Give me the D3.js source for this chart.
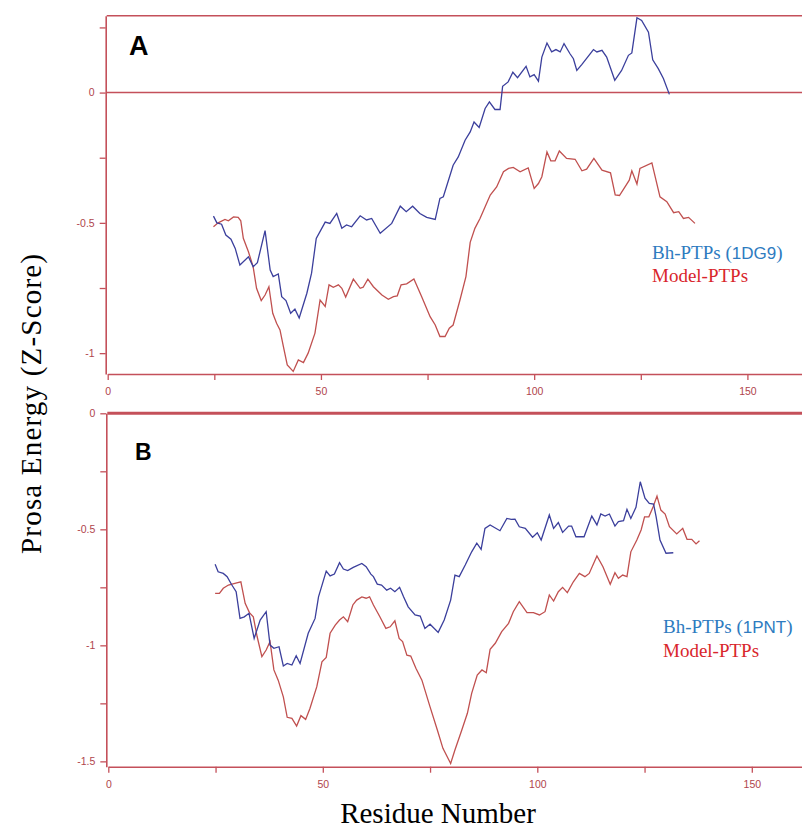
<!DOCTYPE html>
<html>
<head>
<meta charset="utf-8">
<script src="https://cdn.jsdelivr.net/npm/d3@7/dist/d3.min.js"></script>
<style>
  html, body { margin: 0; padding: 0; background: #fff; }
  svg { display: block; }
</style>
</head>
<body>
<svg id="chart" width="802" height="828"></svg>
<script>
// ---------------- DATA ----------------
// Panel A : [residue, z-score]
const blueA = [[24.8,-0.474],[25.6,-0.50],[26.7,-0.505],[27.7,-0.547],[28.9,-0.563],[29.9,-0.598],[31.0,-0.662],[33.0,-0.63],[34.1,-0.668],[35.1,-0.653],[36.9,-0.53],[38.1,-0.681],[38.8,-0.706],[40.0,-0.696],[40.8,-0.783],[41.8,-0.798],[42.9,-0.847],[43.9,-0.831],[44.9,-0.865],[46.7,-0.77],[47.8,-0.693],[48.9,-0.56],[51.0,-0.497],[52.1,-0.502],[53.7,-0.464],[54.9,-0.521],[56.0,-0.508],[57.2,-0.515],[59.2,-0.473],[60.7,-0.489],[61.9,-0.483],[63.9,-0.54],[66.6,-0.502],[68.6,-0.436],[70.0,-0.457],[71.5,-0.436],[73.2,-0.464],[74.8,-0.479],[76.8,-0.487],[77.9,-0.406],[78.7,-0.40],[81.0,-0.279],[82.2,-0.247],[83.8,-0.183],[85.0,-0.151],[85.9,-0.113],[87.1,-0.134],[88.5,-0.061],[89.5,-0.036],[90.8,-0.065],[92.0,-0.065],[92.6,0.024],[93.9,0.041],[95.0,0.078],[96.1,0.057],[98.1,0.101],[99.0,0.06],[100.0,0.069],[101.0,0.044],[101.8,0.136],[103.0,0.19],[104.1,0.156],[105.1,0.165],[106.1,0.156],[107.0,0.188],[108.4,0.149],[109.2,0.13],[110.0,0.085],[111.2,0.108],[113.9,0.165],[114.7,0.156],[115.9,0.162],[117.0,0.136],[118.9,0.047],[120.5,0.085],[122.1,0.143],[122.9,0.152],[124.1,0.287],[125.2,0.277],[126.8,0.232],[127.8,0.126],[129.1,0.092],[130.3,0.054],[131.7,-0.007]];
const redA = [[24.8,-0.515],[25.9,-0.50],[27.5,-0.487],[28.3,-0.492],[29.5,-0.477],[30.6,-0.479],[31.2,-0.492],[31.8,-0.559],[33.0,-0.611],[34.1,-0.668],[34.9,-0.751],[36.0,-0.798],[36.9,-0.777],[37.8,-0.745],[38.7,-0.847],[39.6,-0.885],[40.4,-0.911],[41.2,-0.975],[42.1,-1.045],[43.5,-1.07],[44.7,-1.026],[45.9,-1.036],[47.0,-1.0],[48.6,-0.923],[49.8,-0.796],[51.0,-0.821],[51.9,-0.738],[52.9,-0.747],[54.1,-0.738],[54.9,-0.751],[55.8,-0.785],[57.6,-0.716],[59.2,-0.751],[59.9,-0.747],[61.0,-0.716],[62.3,-0.745],[64.3,-0.777],[65.8,-0.793],[67.0,-0.783],[67.9,-0.78],[68.8,-0.738],[70.1,-0.734],[71.8,-0.715],[73.6,-0.783],[75.6,-0.86],[76.8,-0.892],[77.9,-0.936],[79.1,-0.936],[80.1,-0.904],[81.0,-0.892],[82.6,-0.796],[84.0,-0.706],[85.0,-0.575],[86.1,-0.521],[87.3,-0.483],[88.5,-0.438],[89.7,-0.393],[91.2,-0.362],[92.8,-0.304],[94.0,-0.291],[95.1,-0.287],[96.7,-0.304],[98.6,-0.289],[100.0,-0.368],[101.0,-0.349],[101.8,-0.323],[103.0,-0.228],[103.9,-0.262],[104.9,-0.262],[105.9,-0.224],[107.6,-0.253],[109.6,-0.256],[111.2,-0.30],[112.3,-0.294],[114.0,-0.253],[115.9,-0.298],[117.9,-0.308],[119.0,-0.393],[120.0,-0.395],[121.3,-0.362],[122.3,-0.336],[122.9,-0.30],[124.1,-0.351],[124.8,-0.291],[127.6,-0.27],[129.5,-0.40],[131.1,-0.419],[132.7,-0.461],[133.9,-0.457],[135.0,-0.483],[136.2,-0.479],[137.7,-0.502]];

// Panel B : [residue, z-score]
const blueB = [[24.9,-0.651],[25.6,-0.683],[26.8,-0.69],[27.7,-0.704],[28.8,-0.74],[29.8,-0.769],[30.7,-0.884],[31.7,-0.877],[32.8,-0.862],[34.0,-0.97],[35.4,-0.891],[36.8,-0.855],[37.7,-0.999],[38.6,-1.013],[39.8,-1.006],[40.8,-1.089],[41.7,-1.078],[42.8,-1.085],[43.8,-1.045],[44.7,-1.078],[46.6,-0.948],[48.2,-0.884],[49.0,-0.791],[50.8,-0.68],[51.7,-0.701],[52.7,-0.693],[53.9,-0.644],[54.8,-0.671],[55.8,-0.678],[57.1,-0.664],[59.1,-0.647],[60.1,-0.661],[61.2,-0.693],[61.8,-0.704],[62.7,-0.736],[63.7,-0.74],[64.9,-0.762],[65.8,-0.754],[66.8,-0.769],[67.9,-0.75],[68.8,-0.79],[69.9,-0.834],[71.5,-0.869],[72.7,-0.874],[73.8,-0.927],[75.0,-0.909],[76.9,-0.944],[78.3,-0.891],[79.8,-0.805],[80.8,-0.697],[81.8,-0.704],[83.2,-0.654],[84.7,-0.597],[85.9,-0.56],[86.9,-0.586],[87.8,-0.496],[89.0,-0.481],[91.3,-0.506],[92.9,-0.453],[93.9,-0.457],[94.8,-0.456],[95.8,-0.489],[97.2,-0.496],[98.9,-0.534],[100.0,-0.515],[100.9,-0.546],[102.8,-0.438],[103.8,-0.496],[104.9,-0.471],[105.9,-0.513],[107.3,-0.486],[108.0,-0.486],[109.0,-0.532],[110.9,-0.532],[112.7,-0.443],[113.9,-0.481],[114.8,-0.434],[115.8,-0.443],[116.8,-0.434],[118.1,-0.486],[118.9,-0.467],[120.1,-0.463],[120.9,-0.414],[121.8,-0.453],[123.0,-0.405],[124.0,-0.295],[125.1,-0.366],[126.1,-0.388],[127.1,-0.391],[127.7,-0.446],[128.6,-0.546],[130.0,-0.603],[131.7,-0.601]];
const redB = [[24.9,-0.776],[25.9,-0.776],[26.8,-0.754],[28.0,-0.74],[29.5,-0.733],[30.9,-0.726],[31.9,-0.819],[32.9,-0.859],[33.8,-0.877],[34.7,-0.963],[35.8,-1.049],[36.8,-1.02],[37.7,-0.984],[38.6,-1.106],[39.6,-1.15],[40.8,-1.222],[41.7,-1.31],[42.8,-1.315],[43.9,-1.348],[44.9,-1.303],[46.0,-1.319],[47.0,-1.272],[48.6,-1.178],[49.8,-1.071],[50.8,-1.052],[51.7,-0.948],[52.9,-0.913],[53.9,-0.891],[54.8,-0.877],[55.8,-0.898],[57.0,-0.826],[57.9,-0.805],[59.1,-0.791],[60.1,-0.797],[60.9,-0.791],[61.8,-0.826],[63.3,-0.877],[64.7,-0.927],[65.7,-0.92],[66.8,-0.894],[67.8,-0.97],[68.6,-0.984],[69.6,-1.042],[70.5,-1.046],[71.7,-1.099],[73.1,-1.15],[75.0,-1.265],[76.7,-1.365],[78.0,-1.444],[79.8,-1.509],[80.8,-1.451],[82.4,-1.365],[83.7,-1.293],[84.7,-1.207],[86.0,-1.128],[87.1,-1.106],[88.1,-1.118],[89.0,-1.017],[90.2,-0.991],[91.7,-0.941],[93.3,-0.905],[94.4,-0.855],[95.8,-0.812],[97.6,-0.859],[99.1,-0.859],[100.5,-0.869],[101.8,-0.855],[102.8,-0.783],[103.8,-0.809],[104.9,-0.769],[105.9,-0.75],[107.0,-0.773],[108.4,-0.726],[109.8,-0.69],[111.1,-0.704],[112.1,-0.69],[113.9,-0.615],[115.3,-0.661],[117.0,-0.737],[118.1,-0.687],[118.9,-0.711],[119.9,-0.697],[120.9,-0.704],[121.8,-0.597],[123.2,-0.546],[124.2,-0.503],[125.0,-0.446],[126.0,-0.446],[127.0,-0.403],[127.9,-0.357],[128.8,-0.417],[129.8,-0.434],[130.8,-0.489],[132.5,-0.52],[133.9,-0.496],[134.9,-0.543],[136.0,-0.543],[137.0,-0.563],[137.8,-0.549]];

// Tick values / labels
const xTicks = [0, 25, 50, 75, 100, 125, 150];
const xLabeled = [0, 50, 100, 150];
const yTicksA = [0.25, 0, -0.25, -0.5, -0.75, -1];
const yLabeledA = [0, -0.5, -1];
const yTicksB = [0, -0.25, -0.5, -0.75, -1, -1.25, -1.5];
const yLabeledB = [0, -0.5, -1, -1.5];
const legendA = ["Bh-PTPs", "1DG9", "Model-PTPs"];
const legendB = ["Bh-PTPs", "1PNT", "Model-PTPs"];
const panelLabels = ["A", "B"];
const yTitle = "Prosa Energy (Z-Score)";
const xTitle = "Residue Number";

// ---------------- DRAW ----------------
const svg = d3.select("#chart");
const AXIS = "#c4505a";
const TICKTXT = "#b0454c";
const BLUE = "#3b3f9c";
const RED = "#c0504f";
const LEG_BLUE = "#2e7bbf";
const LEG_RED = "#d9262c";

function panel(cfg) {
  const g = svg.append("g");
  const x = d3.scaleLinear().domain(cfg.xDomain).range(cfg.xRange);
  const y = d3.scaleLinear().domain(cfg.yDomain).range(cfg.yRange);

  // top border / zero lines
  cfg.hLines.forEach(h => {
    g.append("line")
      .attr("x1", x(0) - 1).attr("x2", 802)
      .attr("y1", y(h.v)).attr("y2", y(h.v))
      .attr("stroke", AXIS).attr("stroke-width", h.w);
  });

  const yAxis = d3.axisLeft(y).tickValues(cfg.yTicks).tickSize(6).tickSizeOuter(0)
    .tickPadding(5)
    .tickFormat(d => cfg.yLabeled.includes(d) ? String(d) : "");
  const ya = g.append("g").attr("transform", `translate(${x(0) - 2},0)`).call(yAxis);

  const xAxis = d3.axisBottom(x).tickValues(xTicks).tickSize(6).tickSizeOuter(0)
    .tickPadding(8)
    .tickFormat(d => xLabeled.includes(d) ? String(d) : "");
  const xa = g.append("g").attr("transform", `translate(0,${cfg.xAxisY})`).call(xAxis);

  [ya, xa].forEach(a => {
    a.selectAll("path.domain").attr("stroke", AXIS).attr("stroke-width", 1.6);
    a.selectAll(".tick line").attr("stroke", AXIS).attr("stroke-width", 1.3);
    a.selectAll(".tick text").attr("fill", TICKTXT)
      .style("font-family", "'Liberation Sans', Arial, sans-serif")
      .style("font-size", "10.5px");
  });

  const line = d3.line().x(d => x(d[0])).y(d => y(d[1]));
  g.append("path").datum(cfg.red).attr("d", line)
    .attr("fill", "none").attr("stroke", RED).attr("stroke-width", 1.3);
  g.append("path").datum(cfg.blue).attr("d", line)
    .attr("fill", "none").attr("stroke", BLUE).attr("stroke-width", 1.3);

  g.append("text").attr("x", cfg.labelPos[0]).attr("y", cfg.labelPos[1])
    .text(cfg.label)
    .style("font-family", "'Liberation Sans', Arial, sans-serif")
    .style("font-weight", "bold").style("font-size", cfg.labelSize + "px")
    .attr("fill", "#000");

  const lt = g.append("text").attr("x", cfg.legendPos[0]).attr("y", cfg.legendPos[1])
    .style("font-family", "'Liberation Serif', 'Times New Roman', serif")
    .style("font-size", "19px").attr("fill", LEG_BLUE);
  lt.append("tspan").text(cfg.legend[0] + " (");
  lt.append("tspan").text(cfg.legend[1])
    .style("font-family", "'Liberation Sans', Arial, sans-serif").style("font-size", "17px");
  lt.append("tspan").text(")");
  g.append("text").attr("x", cfg.legendPos[0]).attr("y", cfg.legendPos[1] + cfg.legendGap)
    .text(cfg.legend[2])
    .style("font-family", "'Liberation Serif', 'Times New Roman', serif")
    .style("font-size", "19px").attr("fill", LEG_RED);
}

panel({
  xDomain: [0, 162.8], xRange: [107.7, 802],
  yDomain: [-1.08, 0.295], yRange: [374, 15.7],
  xAxisY: 374,
  hLines: [{v: 0.295, w: 1.6}, {v: 0, w: 1.6}],
  yTicks: yTicksA, yLabeled: yLabeledA,
  blue: blueA, red: redA,
  label: panelLabels[0], labelPos: [129, 55], labelSize: 27,
  legend: legendA, legendPos: [652, 259], legendGap: 22.5
});

panel({
  xDomain: [0, 161.7], xRange: [108.3, 802],
  yDomain: [-1.523, 0], yRange: [766.7, 413.3],
  xAxisY: 766.7,
  hLines: [{v: 0, w: 3}],
  yTicks: yTicksB, yLabeled: yLabeledB,
  blue: blueB, red: redB,
  label: panelLabels[1], labelPos: [135, 460], labelSize: 23,
  legend: legendB, legendPos: [663, 633], legendGap: 24
});

svg.append("text")
  .attr("transform", "translate(41,404) rotate(-90)")
  .attr("text-anchor", "middle")
  .attr("textLength", 300)
  .attr("lengthAdjust", "spacing")
  .text(yTitle)
  .style("font-family", "'Liberation Serif', 'Times New Roman', serif")
  .style("font-size", "29px").attr("fill", "#000");

svg.append("text")
  .attr("x", 438).attr("y", 823)
  .attr("text-anchor", "middle")
  .text(xTitle)
  .style("font-family", "'Liberation Serif', 'Times New Roman', serif")
  .style("font-size", "29px").attr("fill", "#000");
</script>
</body>
</html>
